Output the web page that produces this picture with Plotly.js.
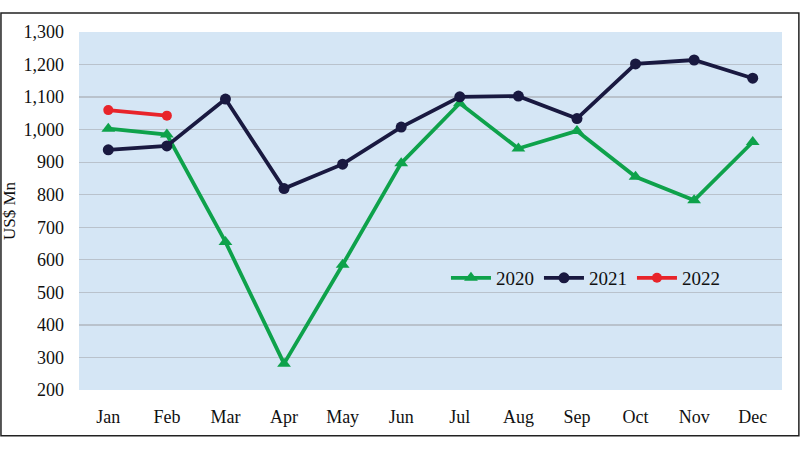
<!DOCTYPE html>
<html>
<head>
<meta charset="utf-8">
<script src="https://cdn.plot.ly/plotly-3.0.1.min.js"></script>
<style>html,body{margin:0;padding:0;background:#fff;}#chart{width:800px;height:450px;}</style>
</head>
<body>
<div id="chart"></div>
<script>
const months = ["Jan","Feb","Mar","Apr","May","Jun","Jul","Aug","Sep","Oct","Nov","Dec"];
const y2020 = [1003, 985, 655, 281, 585, 897, 1081, 942, 996, 855, 783, 962];
const y2021 = [938, 950, 1094, 819, 894, 1008, 1101, 1103, 1034, 1202, 1214, 1158];
const months2022 = ["Jan","Feb"];
const y2022 = [1060, 1043];
const yTicks = [200,300,400,500,600,700,800,900,1000,1100,1200,1300];

const fam = "Liberation Serif, Times New Roman, serif";

const traces = [
  {x: months, y: y2020, name: "2020", type: "scatter", mode: "lines+markers",
   line: {color: "#0ea24b", width: 3.8}, marker: {symbol: "triangle-up", size: 12, color: "#0ea24b"}},
  {x: months, y: y2021, name: "2021", type: "scatter", mode: "lines+markers",
   line: {color: "#191940", width: 3.8}, marker: {symbol: "circle", size: 11, color: "#191940"}},
  {x: months2022, y: y2022, name: "2022", type: "scatter", mode: "lines+markers",
   line: {color: "#e8242a", width: 3.8}, marker: {symbol: "circle", size: 10, color: "#e8242a"}}
];

const layout = {
  width: 800, height: 450,
  margin: {l: 79, r: 18, t: 32, b: 60},
  paper_bgcolor: "#ffffff",
  plot_bgcolor: "#d5e6f5",
  font: {family: fam, color: "#111", size: 18},
  showlegend: true,
  legend: {orientation: "h", x: 0.522, y: 0.313, xanchor: "left", yanchor: "middle",
           bgcolor: "rgba(0,0,0,0)", font: {family: fam, size: 19, color: "#111"},
           itemwidth: 40, tracegroupgap: 0},
  xaxis: {type: "category", categoryorder: "array", categoryarray: months,
          range: [-0.5, 11.5], showgrid: false, zeroline: false, showline: false,
          ticks: "", ticklabelstandoff: 14, tickfont: {family: fam, size: 18, color: "#111"}},
  yaxis: {range: [200, 1300], tickvals: yTicks, tickformat: ",d", showgrid: true,
          gridcolor: "#b9c2cc", gridwidth: 1.2, zeroline: false, showline: false, ticks: "",
          ticklabelstandoff: 14,
          tickfont: {family: fam, size: 18, color: "#111"},
          title: {text: "US$ Mn", font: {family: fam, size: 17, color: "#111"}, standoff: 4}},
  shapes: [
    {type: "rect", xref: "paper", yref: "paper", x0: -0.111, x1: 1.024, y0: -0.128, y1: 1.053,
     line: {color: "#222", width: 1.5}, fillcolor: "rgba(0,0,0,0)", layer: "above"}
  ]
};

Plotly.newPlot("chart", traces, layout, {displayModeBar: false, staticPlot: true});
</script>
</body>
</html>
